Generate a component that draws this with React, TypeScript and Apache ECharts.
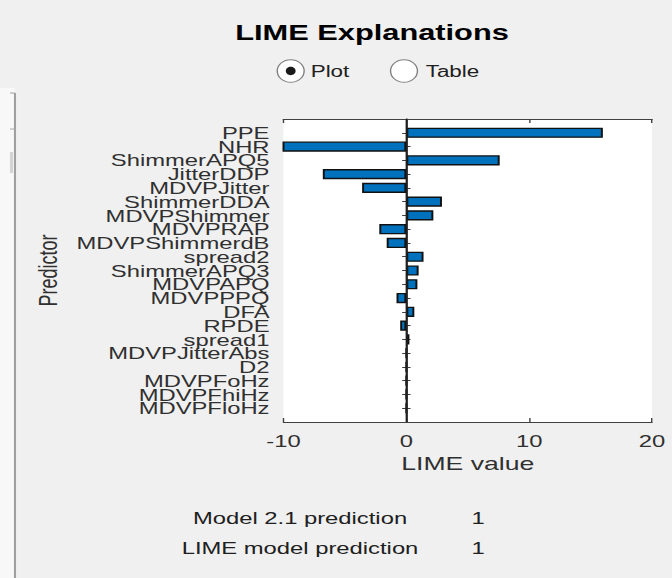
import React, { useEffect, useRef } from "react";
import * as echarts from "echarts";

const predictors = [
  "PPE", "NHR", "ShimmerAPQ5", "JitterDDP", "MDVPJitter", "ShimmerDDA",
  "MDVPShimmer", "MDVPRAP", "MDVPShimmerdB", "spread2", "ShimmerAPQ3",
  "MDVPAPQ", "MDVPPPQ", "DFA", "RPDE", "spread1", "MDVPJitterAbs", "D2",
  "MDVPFoHz", "MDVPFhiHz", "MDVPFloHz",
];
const limeValues = [
  16.0, -10.2, 7.6, -6.8, -3.6, 2.9, 2.2, -2.2, -1.6, 1.4, 1.0, 0.9, -0.8,
  0.65, -0.5, 0.25, 0, 0, 0, 0, 0,
];
const xTicks = { min: -10, max: 20, interval: 10 };
const modelPrediction = "1";
const limePrediction = "1";

const SX = 1.4;
const W = 672 / SX;
const H = 578;
const FONT = "'Liberation Sans', Arial, Helvetica, sans-serif";
const AXIS_COLOR = "#404040";
const TEXT_COLOR = "#303030";

export default function App() {
  const ref = useRef<HTMLDivElement>(null);

  useEffect(() => {
    if (!ref.current) return;
    const chart = echarts.init(ref.current, undefined, { renderer: "svg" });
    const cats = ["", ...predictors, ""];
    const data = [null, ...limeValues, null];

    const yBase = {
      type: "category" as const,
      data: cats,
      inverse: true,
      boundaryGap: false,
      axisLine: { show: true, lineStyle: { color: AXIS_COLOR, width: 1.2 } },
      axisTick: {
        show: true,
        inside: true,
        length: 3,
        interval: 0,
        lineStyle: { color: AXIS_COLOR },
      },
      splitLine: { show: false },
    };
    const xBase = {
      type: "value" as const,
      min: xTicks.min,
      max: xTicks.max,
      interval: xTicks.interval,
      splitLine: { show: false },
      axisLine: { show: true, onZero: false, lineStyle: { color: AXIS_COLOR, width: 1.2 } },
      axisTick: { show: true, inside: true, length: 4, lineStyle: { color: AXIS_COLOR } },
    };

    chart.setOption({
      animation: false,
      backgroundColor: "#f0f0f0",
      textStyle: { fontFamily: FONT },
      grid: {
        left: 202.5,
        right: W - 652 / SX,
        top: 119,
        bottom: H - 422,
        show: true,
        backgroundColor: "#ffffff",
        borderWidth: 0,
      },
      xAxis: [
        {
          ...xBase,
          position: "bottom",
          name: "LIME value",
          nameLocation: "middle",
          nameGap: 31,
          nameTextStyle: { fontSize: 19, color: TEXT_COLOR, fontFamily: FONT },
          axisLabel: { fontSize: 17, color: TEXT_COLOR, margin: 10, fontFamily: FONT },
        },
        {
          ...xBase,
          position: "top",
          axisLabel: { show: false },
        },
      ],
      yAxis: [
        {
          ...yBase,
          position: "left",
          name: "Predictor",
          nameLocation: "middle",
          nameRotate: 90,
          nameGap: 158,
          nameTextStyle: { fontSize: 18, color: TEXT_COLOR, fontFamily: FONT },
          axisLabel: {
            interval: 0,
            fontSize: 17,
            color: TEXT_COLOR,
            margin: 10,
            fontFamily: FONT,
          },
        },
        {
          ...yBase,
          position: "right",
          axisLabel: { show: false },
        },
      ],
      series: [
        {
          type: "bar",
          xAxisIndex: 0,
          yAxisIndex: 0,
          data,
          barWidth: "74%",
          clip: true,
          itemStyle: { color: "#0072BD", borderColor: "#111111", borderWidth: 1.4 },
          markLine: {
            silent: true,
            symbol: ["none", "none"],
            label: { show: false },
            lineStyle: { color: "#202020", width: 1.3, type: "solid" },
            data: [{ xAxis: 0 }],
          },
        },
      ],
      graphic: [
        {
          type: "rect",
          shape: { x: 0, y: 88, width: 10.7, height: H - 88 },
          style: { fill: "#f8f8f8" },
          silent: true,
        },
        {
          type: "line",
          shape: { x1: 10.7, y1: 93, x2: 10.7, y2: H },
          style: { stroke: "#a0a0a0", lineWidth: 1.5 },
          silent: true,
        },
        {
          type: "line",
          shape: { x1: 7.1, y1: 93, x2: 10.7, y2: 93 },
          style: { stroke: "#a0a0a0", lineWidth: 1 },
          silent: true,
        },
        {
          type: "line",
          shape: { x1: 7.1, y1: 129, x2: 10.7, y2: 129 },
          style: { stroke: "#a8a8a8", lineWidth: 1 },
          silent: true,
        },
        {
          type: "rect",
          shape: { x: 7.1, y: 152, width: 2.2, height: 21 },
          style: { fill: "#d4d4d4" },
          silent: true,
        },
        {
          type: "text",
          x: 372 / SX,
          y: 33,
          style: {
            text: "LIME Explanations",
            fontSize: 22,
            fontWeight: "bold",
            fontFamily: FONT,
            fill: "#000000",
            align: "center",
            verticalAlign: "middle",
          },
        },
        {
          type: "ellipse",
          shape: { cx: 290.7 / SX, cy: 71, rx: 9.6, ry: 11.3 },
          style: { fill: "#ffffff", stroke: "#808080", lineWidth: 1 },
        },
        {
          type: "ellipse",
          shape: { cx: 290.7 / SX, cy: 71, rx: 3.5, ry: 4.2 },
          style: { fill: "#1a1a1a" },
        },
        {
          type: "text",
          x: 310.7 / SX,
          y: 71,
          style: {
            text: "Plot",
            fontSize: 16,
            fontFamily: FONT,
            fill: "#202020",
            align: "left",
            verticalAlign: "middle",
          },
        },
        {
          type: "ellipse",
          shape: { cx: 404 / SX, cy: 71, rx: 9.6, ry: 11.3 },
          style: { fill: "#ffffff", stroke: "#808080", lineWidth: 1 },
        },
        {
          type: "text",
          x: 425.7 / SX,
          y: 71,
          style: {
            text: "Table",
            fontSize: 16,
            fontFamily: FONT,
            fill: "#202020",
            align: "left",
            verticalAlign: "middle",
          },
        },
        {
          type: "text",
          x: 300 / SX,
          y: 518,
          style: {
            text: "Model 2.1 prediction",
            fontSize: 17,
            fontFamily: FONT,
            fill: "#202020",
            align: "center",
            verticalAlign: "middle",
          },
        },
        {
          type: "text",
          x: 478 / SX,
          y: 518,
          style: {
            text: modelPrediction,
            fontSize: 17,
            fontFamily: FONT,
            fill: "#202020",
            align: "center",
            verticalAlign: "middle",
          },
        },
        {
          type: "text",
          x: 300 / SX,
          y: 548,
          style: {
            text: "LIME model prediction",
            fontSize: 17,
            fontFamily: FONT,
            fill: "#202020",
            align: "center",
            verticalAlign: "middle",
          },
        },
        {
          type: "text",
          x: 478 / SX,
          y: 548,
          style: {
            text: limePrediction,
            fontSize: 17,
            fontFamily: FONT,
            fill: "#202020",
            align: "center",
            verticalAlign: "middle",
          },
        },
      ],
    });
    return () => chart.dispose();
  }, []);

  return (
    <div
      style={{
        position: "absolute",
        left: 0,
        top: 0,
        width: 672,
        height: H,
        overflow: "hidden",
        background: "#f0f0f0",
      }}
    >
      <div
        ref={ref}
        style={{
          width: W,
          height: H,
          transform: `scaleX(${SX})`,
          transformOrigin: "0 0",
        }}
      />
    </div>
  );
}
